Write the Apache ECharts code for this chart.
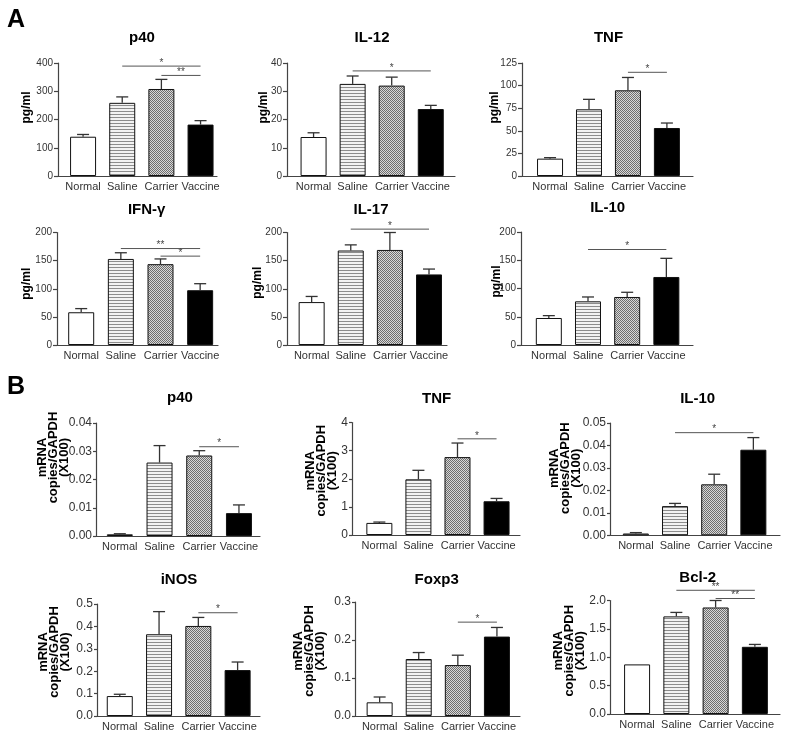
<!DOCTYPE html>
<html>
<head>
<meta charset="utf-8">
<script src="https://cdn.jsdelivr.net/npm/echarts@6.0.0/dist/echarts.min.js"></script>
<style>
  html, body { margin: 0; padding: 0; background: #fff; }
  #chart { width: 788px; height: 737px; }
</style>
</head>
<body>
<div id="chart"></div>
<script>
// 分组
const groups = ['Normal', 'Saline', 'Carrier', 'Vaccine']

// A: 蛋白 (pg/ml)  均值 + SEM
const p40Mean = [139, 259, 308, 182]
const p40Sem = [8, 21, 34, 14]
const il12Mean = [13.8, 32.6, 32.0, 23.7]
const il12Sem = [1.5, 2.8, 3.0, 1.3]
const tnfMean = [19.2, 73.8, 94.8, 53.1]
const tnfSem = [1.1, 11, 14.2, 5.5]
const ifnMean = [58.2, 153, 143.7, 97.4]
const ifnSem = [6.5, 11, 9.3, 11.6]
const il17Mean = [76.3, 168, 169, 125.5]
const il17Sem = [10, 10, 31, 9.5]
const il10Mean = [47.8, 77.3, 85, 120.4]
const il10Sem = [4.2, 7.7, 8.3, 33]

// B: mRNA copies/GAPDH (X100)
const p40mMean = [0.0006, 0.026, 0.0285, 0.0081]
const p40mSem = [0.0002, 0.006, 0.0017, 0.0029]
const tnfmMean = [0.43, 1.98, 2.77, 1.2]
const tnfmSem = [0.03, 0.32, 0.5, 0.1]
const il10mMean = [0.0008, 0.013, 0.0227, 0.0381]
const il10mSem = [0.0004, 0.0012, 0.0045, 0.0054]
const inosMean = [0.089, 0.365, 0.402, 0.205]
const inosSem = [0.008, 0.101, 0.038, 0.036]
const foxp3Mean = [0.036, 0.15, 0.134, 0.209]
const foxp3Sem = [0.014, 0.017, 0.026, 0.024]
const bcl2Mean = [0.874, 1.72, 1.877, 1.184]
const bcl2Sem = [0, 0.07, 0.123, 0.042]

// 显著性标记: [起始组, 结束组, 高度, 文字]
const p40Sig = [[1, 3, 389, '*'], [2, 3, 356, '**']]
const il12Sig = [[1, 3, 37.2, '*']]
const tnfSig = [[2, 3, 114.7, '*']]
const ifnSig = [[1, 3, 171.5, '**'], [2, 3, 158, '*']]
const il17Sig = [[1, 3, 206, '*']]
const il10Sig = [[1, 3, 169, '*']]
const p40mSig = [[2, 3, 0.0316, '*']]
const tnfmSig = [[2, 3, 3.42, '*']]
const il10mSig = [[1, 3, 0.0457, '*']]
const inosSig = [[2, 3, 0.461, '*']]
const foxp3Sig = [[2, 3, 0.247, '*']]
const bcl2Sig = [[1, 3, 2.18, '**'], [2, 3, 2.035, '**']]

const FONT = "'Liberation Sans', Arial, sans-serif"
const PG = 'pg/ml'
const MRNA = 'mRNA\ncopies/GAPDH\n(X100)'

// box: [left, top, width, height]   pad: x轴两端留白(组宽为单位)   head: 标题中心   lift: 轴名上移
const panels = [
  { title: 'p40', mean: p40Mean, sem: p40Sem, sig: p40Sig, max: 400, step: 100, digits: 0, unit: PG,
    box: [58, 63, 159, 113], pad: [0.64, 0.42], nameGap: 24, lift: 12, head: [142, 38] },
  { title: 'IL-12', mean: il12Mean, sem: il12Sem, sig: il12Sig, max: 40, step: 10, digits: 0, unit: PG,
    box: [287, 63, 168, 113], pad: [0.68, 0.62], nameGap: 16, lift: 12, head: [372, 38] },
  { title: 'TNF', mean: tnfMean, sem: tnfSem, sig: tnfSig, max: 125, step: 25, digits: 0, unit: PG,
    box: [522, 63, 171, 113], pad: [0.72, 0.67], nameGap: 20, lift: 12, head: [608.5, 38] },
  { title: 'IFN-γ', mean: ifnMean, sem: ifnSem, sig: ifnSig, max: 200, step: 50, digits: 0, unit: PG,
    box: [57, 232.5, 161, 112.5], pad: [0.61, 0.45], nameGap: 23, lift: 5, head: [146.7, 210] },
  { title: 'IL-17', mean: il17Mean, sem: il17Sem, sig: il17Sig, max: 200, step: 50, digits: 0, unit: PG,
    box: [287, 232.5, 160, 112.5], pad: [0.63, 0.46], nameGap: 22, lift: 6, head: [371, 210] },
  { title: 'IL-10', mean: il10Mean, sem: il10Sem, sig: il10Sig, max: 200, step: 50, digits: 0, unit: PG,
    box: [521, 232, 172, 113], pad: [0.71, 0.68], nameGap: 17, lift: 7, head: [607.7, 208] },
  { title: 'p40', mean: p40mMean, sem: p40mSem, sig: p40mSig, max: 0.04, step: 0.01, digits: 2, unit: MRNA,
    box: [96, 423, 164, 113], pad: [0.6, 0.53], nameGap: 26.5, lift: 22, head: [180, 398] },
  { title: 'TNF', mean: tnfmMean, sem: tnfmSem, sig: tnfmSig, max: 4, step: 1, digits: 0, unit: MRNA,
    box: [352, 422.5, 168, 112.5], pad: [0.7, 0.6], nameGap: 14, lift: 8, head: [436.7, 399] },
  { title: 'IL-10', mean: il10mMean, sem: il10mSem, sig: il10mSig, max: 0.05, step: 0.01, digits: 2, unit: MRNA,
    box: [610, 423, 170, 112.3], pad: [0.66, 0.68], nameGap: 28, lift: 11, head: [697.7, 399] },
  { title: 'iNOS', mean: inosMean, sem: inosSem, sig: inosSig, max: 0.5, step: 0.1, digits: 1, unit: MRNA,
    box: [97, 604, 163, 112], pad: [0.58, 0.57], nameGap: 26, lift: 8, head: [179, 580] },
  { title: 'Foxp3', mean: foxp3Mean, sem: foxp3Sem, sig: foxp3Sig, max: 0.3, step: 0.1, digits: 1, unit: MRNA,
    box: [355, 602, 165, 114], pad: [0.63, 0.59], nameGap: 29.5, lift: 8, head: [436.7, 580] },
  { title: 'Bcl-2', mean: bcl2Mean, sem: bcl2Sem, sig: bcl2Sig, max: 2, step: 0.5, digits: 1, unit: MRNA,
    box: [610, 600.5, 170, 113.5], pad: [0.69, 0.64], nameGap: 24, lift: 6.5, head: [697.7, 578] },
]

// 横线填充 (Saline)
function stripes() {
  const c = document.createElement('canvas')
  c.width = 4
  c.height = 3
  const ctx = c.getContext('2d')
  ctx.fillStyle = '#f2f2f2'
  ctx.fillRect(0, 0, 4, 3)
  ctx.fillStyle = '#8c8c8c'
  ctx.fillRect(0, 0, 4, 1)
  return c
}
// 网点填充 (Carrier)
function checker() {
  const c = document.createElement('canvas')
  c.width = 2
  c.height = 2
  const ctx = c.getContext('2d')
  ctx.fillStyle = '#d8d8d8'
  ctx.fillRect(0, 0, 2, 2)
  ctx.fillStyle = '#6e6e6e'
  ctx.fillRect(0, 0, 1, 1)
  ctx.fillRect(1, 1, 1, 1)
  return c
}
const fills = ['#ffffff', { image: stripes(), repeat: 'repeat' }, { image: checker(), repeat: 'repeat' }, '#000000']

// 误差线
function errorBar(params, api) {
  if (api.value(2) <= api.value(1)) return null
  const base = api.coord([api.value(0), api.value(1)])
  const tip = api.coord([api.value(0), api.value(2)])
  const line = { stroke: '#333', lineWidth: 1.3 }
  return {
    type: 'group',
    children: [
      { type: 'line', shape: { x1: tip[0], y1: base[1], x2: tip[0], y2: tip[1] }, style: line },
      { type: 'line', shape: { x1: tip[0] - 6, y1: tip[1], x2: tip[0] + 6, y2: tip[1] }, style: line },
    ],
  }
}

const option = {
  animation: false,
  backgroundColor: '#fff',
  title: [
    { text: 'A', left: 7, top: 8, padding: 0, textStyle: { fontFamily: FONT, fontSize: 25, fontWeight: 'bold', color: '#000' } },
    { text: 'B', left: 7, top: 375, padding: 0, textStyle: { fontFamily: FONT, fontSize: 25, fontWeight: 'bold', color: '#000' } },
  ],
  grid: [],
  xAxis: [],
  yAxis: [],
  series: [],
}

panels.forEach((p, k) => {
  const [left, top, width, height] = p.box
  const isMrna = p.unit === MRNA
  option.title.push({
    text: p.title,
    left: p.head[0],
    top: p.head[1] - 7.3,
    textAlign: 'center',
    padding: 0,
    textStyle: { fontFamily: FONT, fontSize: 15, fontWeight: 'bold', color: '#000' },
  })
  option.grid.push({ left, top, width, height, containLabel: false, outerBoundsMode: 'none' })
  option.xAxis.push({
    gridIndex: k,
    type: 'value',
    min: -p.pad[0],
    max: 3 + p.pad[1],
    splitNumber: 4,
    splitLine: { show: false },
    axisTick: { show: false },
    axisLine: { show: true, onZero: false, lineStyle: { color: '#444', width: 1.2 } },
    axisLabel: {
      fontFamily: FONT,
      fontSize: 11,
      color: '#333',
      margin: 5,
      formatter: (v) => (Number.isInteger(v) && groups[v]) || '',
    },
  })
  option.yAxis.push({
    gridIndex: k,
    type: 'value',
    min: 0,
    max: p.max,
    interval: p.step,
    name: p.unit,
    nameLocation: 'middle',
    nameRotate: 90,
    nameGap: p.nameGap,
    nameMoveOverlap: false,
    nameTextStyle: {
      fontFamily: FONT,
      fontSize: isMrna ? 13 : 12,
      fontWeight: 'bold',
      color: '#000',
      lineHeight: isMrna ? 11 : 14,
      // 左侧留白 -> 旋转后名字沿轴上移 lift 像素
      padding: [0, 0, 0, 2 * p.lift],
    },
    splitLine: { show: false },
    axisLine: { show: true, onZero: false, lineStyle: { color: '#444', width: 1.2 } },
    axisTick: { show: true, length: isMrna ? 3 : 4, lineStyle: { color: '#444', width: 1.2 } },
    axisLabel: {
      fontFamily: FONT,
      fontSize: isMrna ? 12 : 10,
      color: '#333',
      margin: isMrna ? 4 : 5,
      formatter: (v) => v.toFixed(p.digits),
    },
  })
  // 柱子
  option.series.push({
    type: 'bar',
    xAxisIndex: k,
    yAxisIndex: k,
    barWidth: 26,
    data: p.mean.map((m, i) => ({
      value: [i, m],
      itemStyle: { color: fills[i], borderColor: '#111', borderWidth: 1 },
    })),
  })
  // 误差线
  option.series.push({
    type: 'custom',
    xAxisIndex: k,
    yAxisIndex: k,
    z: 3,
    renderItem: errorBar,
    data: p.mean.map((m, i) => [i, m, m + p.sem[i]]),
  })
  // 显著性
  option.series.push({
    type: 'custom',
    xAxisIndex: k,
    yAxisIndex: k,
    z: 4,
    renderItem: (params, api) => {
      const row = p.sig[params.dataIndex]
      const a = api.coord([row[0], row[2]])
      const b = api.coord([row[1], row[2]])
      return {
        type: 'group',
        children: [
          { type: 'line', shape: { x1: a[0], y1: a[1], x2: b[0], y2: b[1] }, style: { stroke: '#555', lineWidth: 1 } },
          {
            type: 'text',
            style: {
              x: (a[0] + b[0]) / 2,
              y: a[1] + 2,
              text: row[3],
              fill: '#444',
              font: '10px ' + FONT,
              align: 'center',
              verticalAlign: 'bottom',
            },
          },
        ],
      }
    },
    data: p.sig.map((r) => [r[0], r[2]]),
  })
})

const chart = echarts.init(document.getElementById('chart'))
chart.setOption(option)
</script>
</body>
</html>
